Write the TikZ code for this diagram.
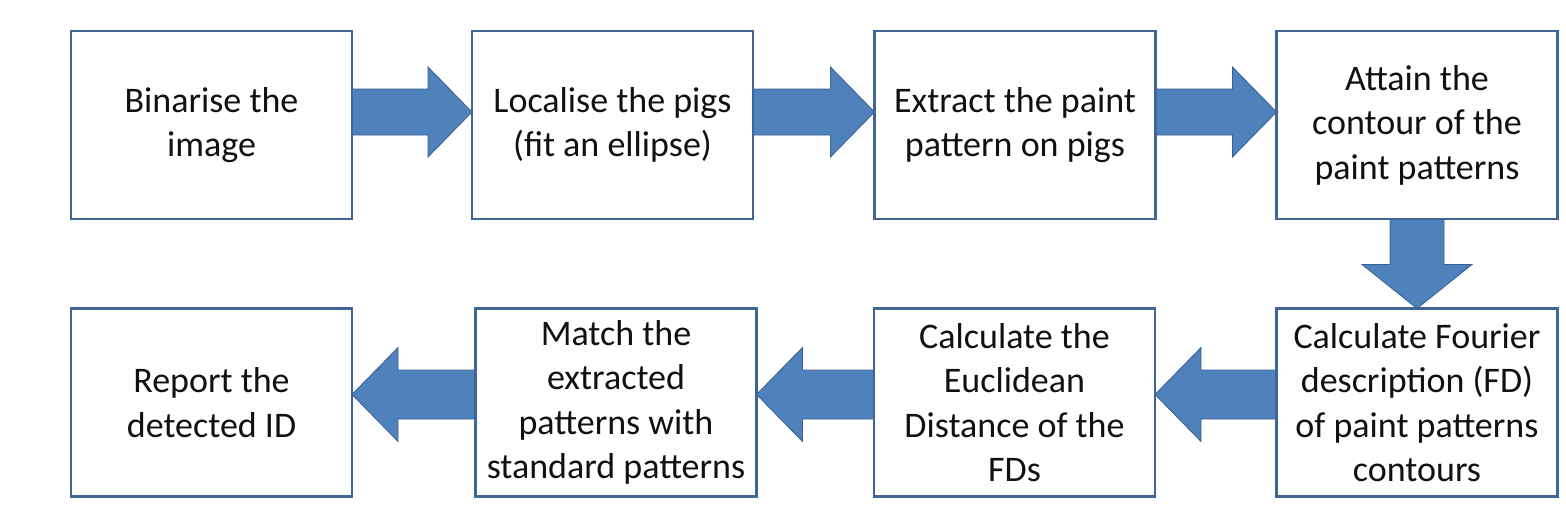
\documentclass[tikz,border=0pt]{standalone}
\usepackage{fontspec}
\setmainfont{Carlito}
\usetikzlibrary{calc,backgrounds}
\definecolor{boxline}{HTML}{3F6697}
\definecolor{arrfill}{HTML}{4F81BD}
\definecolor{arrline}{HTML}{3A6090}
\definecolor{txt}{HTML}{111111}
\begin{document}
\begin{tikzpicture}[x=1pt,y=-1pt,
 stepbox/.style={draw=boxline, line width=2.6pt, fill=white, minimum width=281pt, minimum height=188pt, inner sep=0pt, outer sep=0pt, align=center, font=\fontsize{36}{44.5}\selectfont, text=txt},
 rarrow/.style={fill=arrfill, draw=arrline, line width=0.8pt,
   to path={let \p1=(\tikztostart.east), \p2=(\tikztotarget.west), \n1={\y1+13pt} in
     (\x1,\n1+23pt) -- (\x2-44pt,\n1+23pt) -- (\x2-44pt,\n1+45pt) -- (\x2,\n1) -- (\x2-44pt,\n1-45pt) -- (\x2-44pt,\n1-23pt) -- (\x1,\n1-23pt) -- cycle}},
 larrow/.style={fill=arrfill, draw=arrline, line width=0.8pt,
   to path={let \p1=(\tikztostart.west), \p2=(\tikztotarget.east), \n1={\y1+8pt} in
     (\x1,\n1+24.5pt) -- (\x2+46pt,\n1+24.5pt) -- (\x2+46pt,\n1+47pt) -- (\x2,\n1) -- (\x2+46pt,\n1-47pt) -- (\x2+46pt,\n1-24.5pt) -- (\x1,\n1-24.5pt) -- cycle}},
 darrow/.style={fill=arrfill, draw=arrline, line width=0.8pt,
   to path={let \p1=(\tikztostart.south), \p2=(\tikztotarget.north) in
     (\x1-27pt,\y1) -- (\x1-27pt,\y2+44pt) -- (\x1-55pt,\y2+44pt) -- (\x1,\y2) -- (\x1+55pt,\y2+44pt) -- (\x1+27pt,\y2+44pt) -- (\x1+27pt,\y1) -- cycle}}
]
\useasboundingbox (0,0) rectangle (1566,520);
\node[stepbox] (b1) at (211.5,125) {Binarise the\\image};
\node[stepbox] (b2) at (612.5,125) {Localise the pigs\\(fit an ellipse)};
\node[stepbox] (b3) at (1015,125) {Extract the paint\\pattern on pigs};
\node[stepbox] (b4) at (1417,125) {Attain the\\contour of the\\paint patterns};
\node[stepbox] (b5) at (1417,402.5) {Calculate Fourier\\description (FD)\\of paint patterns\\contours};
\node[stepbox] (b6) at (1014.5,402.5) {Calculate the\\Euclidean\\Distance of the\\FDs};
\node[stepbox] (b7) at (616,402.5) {Match the\\extracted\\patterns with\\standard patterns};
\node[stepbox] (b8) at (211.5,402.5) {Report the\\detected ID};
\begin{scope}[on background layer]
\fill[white] (0,0) rectangle (1566,520);
\draw[rarrow] (b1) to (b2);
\draw[rarrow] (b2) to (b3);
\draw[rarrow] (b3) to (b4);
\draw[darrow] (b4) to (b5);
\draw[larrow] (b5) to (b6);
\draw[larrow] (b6) to (b7);
\draw[larrow] (b7) to (b8);
\end{scope}
\end{tikzpicture}
\end{document}
